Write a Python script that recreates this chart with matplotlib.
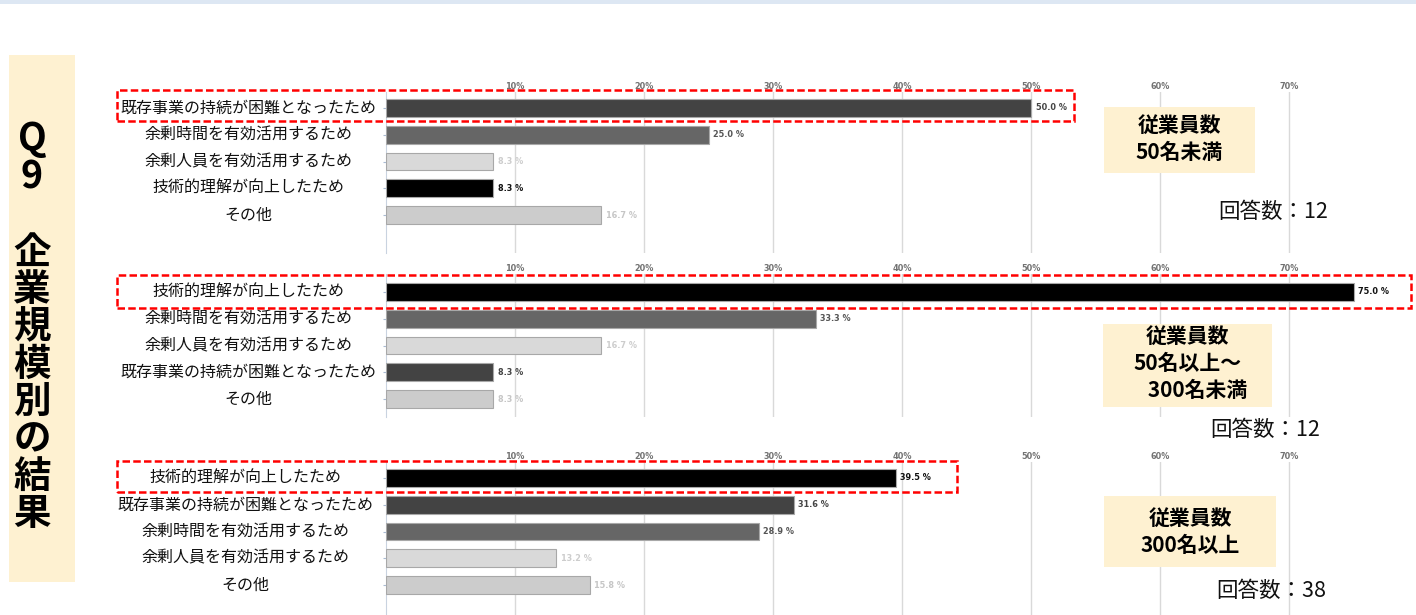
import matplotlib.pyplot as plt
from matplotlib.patches import Rectangle

plt.rcParams['font.family'] = ['Noto Sans CJK JP', 'DejaVu Sans']

W, H = 1416, 615

# data
cats_small = ['既存事業の持続が困難となったため', '余剰時間を有効活用するため',
              '余剰人員を有効活用するため', '技術的理解が向上したため', 'その他']
vals_small = [50.0, 25.0, 8.3, 8.3, 16.7]

cats_mid = ['技術的理解が向上したため', '余剰時間を有効活用するため',
            '余剰人員を有効活用するため', '既存事業の持続が困難となったため', 'その他']
vals_mid = [75.0, 33.3, 16.7, 8.3, 8.3]

cats_large = ['技術的理解が向上したため', '既存事業の持続が困難となったため',
              '余剰時間を有効活用するため', '余剰人員を有効活用するため', 'その他']
vals_large = [39.5, 31.6, 28.9, 13.2, 15.8]

box_small = ['従業員数', '50名未満']
box_mid = ['従業員数', '50名以上～', '　300名未満']
box_large = ['従業員数', '300名以上']

n_small, n_mid, n_large = 12, 12, 38
xticks = [10, 20, 30, 40, 50, 60, 70]

bar_color = {'既存事業の持続が困難となったため': '#434343',
             '余剰時間を有効活用するため': '#666666',
             '余剰人員を有効活用するため': '#d9d9d9',
             '技術的理解が向上したため': '#000000',
             'その他': '#cccccc'}
label_color = {'既存事業の持続が困難となったため': '#444444',
               '余剰時間を有効活用するため': '#555555',
               '余剰人員を有効活用するため': '#cdcdcd',
               '技術的理解が向上したため': '#111111',
               'その他': '#c6c6c6'}


def fx(x):
    return x / W


def fy(y):
    return 1 - y / H


fig = plt.figure(figsize=(W / 100, H / 100), dpi=100)
fig.patch.set_facecolor('white')

# top band
fig.patches.append(Rectangle((0, fy(4)), 1, 4 / H, transform=fig.transFigure,
                             facecolor='#dde7f3', edgecolor='none'))

# left title box
fig.patches.append(Rectangle((fx(9), fy(582)), fx(66), (582 - 55) / H,
                             transform=fig.transFigure, facecolor='#fef1d1', edgecolor='none'))
for i, ch in enumerate('Q9'):
    fig.text(fx(32), fy(138 + 39 * i), ch, ha='center', va='center',
             fontsize=27, fontweight='bold')
for i, ch in enumerate('企業規模別の結果'):
    fig.text(fx(32), fy(252 + 37.4 * i), ch, ha='center', va='center',
             fontsize=27, fontweight='bold')

panels = [
    # cats, vals, top px, bottom px, first row px, label x px
    (cats_small, vals_small, 92, 253, 108, 248),
    (cats_mid, vals_mid, 274, 417, 292, 248),
    (cats_large, vals_large, 462, 615, 478, 245),
]
row_px = 26.75
x0, x1 = 386, 1411
px_per = 12.9

for cats, vals, top, bot, first, lab_x in panels:
    ax = fig.add_axes([fx(x0), fy(bot), (x1 - x0) / W, (bot - top) / H])
    ypos = list(range(len(cats)))
    ax.barh(ypos, vals, height=0.67,
            color=[bar_color[c] for c in cats], edgecolor='#a8a8a8', linewidth=0.8, zorder=3)
    ax.set_xlim(0, (x1 - x0) / px_per)
    ax.set_ylim((bot - first) / row_px, (top - first) / row_px)
    ax.xaxis.tick_top()
    ax.set_xticks(xticks)
    ax.set_xticklabels([f'{t}%' for t in xticks])
    ax.tick_params(axis='x', length=0, pad=1, labelsize=6.5, labelcolor='#727272')
    for t in ax.get_xticklabels():
        t.set_family('DejaVu Sans')
        t.set_stretch('condensed')
        t.set_fontweight('bold')
    ax.set_yticks(ypos)
    ax.set_yticklabels([])
    ax.tick_params(axis='y', length=2, width=0.8, color='#a9bad2')
    ax.grid(axis='x', color='#d9d9d9', linewidth=1, zorder=0)
    for s in ['top', 'right', 'bottom']:
        ax.spines[s].set_visible(False)
    ax.spines['left'].set_color('#c9d3e0')
    ax.patch.set_alpha(0)

    for y, c, v in zip(ypos, cats, vals):
        ax.text(-(x0 - lab_x) / (x1 - x0), y, c, transform=ax.get_yaxis_transform(),
                ha='center', va='center', fontsize=11.5, color='#111111', clip_on=False)
        ax.text(v + 0.35, y, f'{v:.1f} %', ha='left', va='center', fontsize=6.5,
                fontweight='bold', family='DejaVu Sans', stretch='condensed',
                color=label_color[c])

# red dashed highlight boxes
for l, t, r, b in [(117, 90, 1074, 121), (117, 275, 1411, 308), (117, 461, 957, 492)]:
    fig.patches.append(Rectangle((fx(l), fy(b)), (r - l) / W, (b - t) / H,
                                 transform=fig.transFigure, fill=False,
                                 edgecolor='#ff0000', linewidth=1.8,
                                 linestyle=(0, (3, 1.3)), zorder=10))

# info boxes
info = [
    ((1104, 107, 1255, 173), box_small, 125, (1218, 212), n_small),
    ((1103, 324, 1272, 407), box_mid, 336, (1210, 430), n_mid),
    ((1104, 496, 1276, 567), box_large, 518, (1216, 591), n_large),
]
for (l, t, r, b), lines, y0, (tx, ty), n in info:
    fig.patches.append(Rectangle((fx(l), fy(b)), (r - l) / W, (b - t) / H,
                                 transform=fig.transFigure, facecolor='#fef1d1',
                                 edgecolor='none', zorder=5))
    for i, line in enumerate(lines):
        fig.text(fx((l + r) / 2), fy(y0 + 27 * i), line, ha='center', va='center',
                 fontsize=15, fontweight='bold', zorder=6)
    fig.text(fx(tx), fy(ty), f'回答数：{n}', ha='left', va='center', fontsize=15.5,
             color='#111111')

fig.savefig('out.png', dpi=100)
